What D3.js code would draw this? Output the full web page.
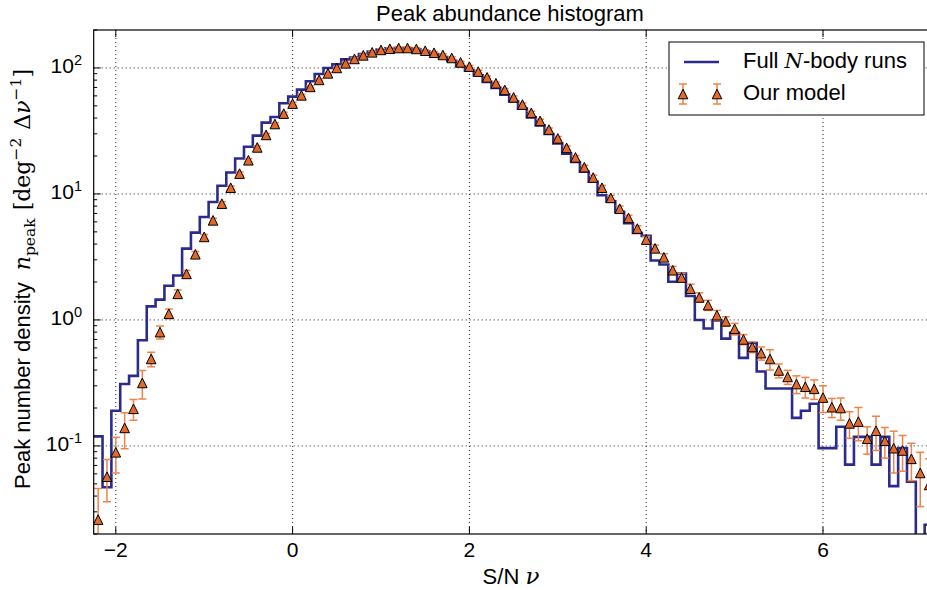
<!DOCTYPE html>
<html lang="en">
<head>
<meta charset="UTF-8">
<title>Peak abundance histogram</title>
<script src="https://d3js.org/d3.v7.min.js"></script>
<style>
  body { margin: 0; padding: 0; background: #fff; }
  svg { display: block; font-family: "Liberation Sans", Arial, sans-serif; }
</style>
</head>
<body>
<div id="chart"></div>
<script>
// histogram bins: 0.1 wide, first one centred on nu = -2.2
var binStart = -2.2;
var binWidth = 0.1;

// full N-body runs (blue step line), -2.2 ... 7.2
var nbodyCounts = [
  0.119, 0.047, 0.19, 0.31, 0.36, 0.69, 1.28, 1.45, 1.87, 2.25,
  3.68, 4.93, 6.56, 8.64, 11.6, 14.8, 19.1, 23.7, 29.0, 36.8,
  40.8, 52.4, 59.2, 67.3, 78.3, 89.6, 100, 107, 117, 121,
  129, 135, 140, 143, 144, 143, 140, 135, 129, 122,
  114, 103, 95.2, 87.4, 77.4, 69.4, 61.4, 54.3, 47.5, 40.5,
  35.0, 29.9, 25.2, 20.9, 17.9, 15.0, 12.5, 9.75, 8.73, 7.2,
  5.85, 4.9, 4.65, 2.96, 2.75, 2.01, 2.33, 1.55, 1.0, 0.855,
  0.99, 0.71, 0.79, 0.50, 0.656, 0.39, 0.286, 0.286, 0.286, 0.167,
  0.19, 0.216, 0.096, 0.096, 0.142, 0.071, 0.118, 0.118, 0.071, 0.118,
  0.048, 0.096, 0.052, 0, 0.0237
];

// our model (triangles)
var modelCounts = [
  0.026, 0.057, 0.089, 0.139, 0.197, 0.316, 0.49, 0.80, 1.12, 1.61,
  2.32, 3.32, 4.56, 6.17, 8.37, 11.2, 14.5, 18.5, 23.4, 29.4,
  35.9, 43.4, 52.1, 60.6, 70.7, 80.4, 90.6, 100, 108.8, 117.9,
  125.9, 133, 139, 142, 144, 144, 141.5, 137, 132, 126.7,
  120, 110.7, 102.4, 93.5, 84.2, 75.5, 66.9, 58.4, 51.2, 44,
  38, 32.4, 27.6, 23.2, 19.5, 16.3, 13.5, 11.2, 9.3, 7.64,
  6.45, 5.31, 4.34, 3.70, 3.14, 2.48, 2.17, 1.77, 1.51, 1.31,
  1.09, 0.975, 0.85, 0.70, 0.61, 0.545, 0.49, 0.397, 0.353, 0.31,
  0.295, 0.284, 0.242, 0.203, 0.20, 0.151, 0.156, 0.114, 0.132, 0.11,
  0.096, 0.092, 0.079, 0.061, 0.049
];

// model error bars (+/-)
var modelErr = [
  0.020, 0.021, 0.028, 0.044, 0.037, 0.080, 0.065, 0.095, 0.10, 0.12,
  0.15, 0.17, 0.20, 0.24, 0.28, 0.35, 0.42, 0.50, 0.60, 0.72,
  0.85, 1.0, 1.2, 1.3, 1.5, 1.7, 1.9, 2.1, 2.2, 2.4,
  2.5, 2.6, 2.7, 2.8, 2.8, 2.8, 2.8, 2.7, 2.7, 2.6,
  2.5, 2.4, 2.3, 2.2, 2.0, 1.9, 1.7, 1.6, 1.4, 1.3,
  1.2, 1.0, 0.9, 0.8, 0.7, 0.62, 0.55, 0.48, 0.42, 0.37,
  0.33, 0.29, 0.26, 0.23, 0.21, 0.18, 0.17, 0.15, 0.13, 0.12,
  0.10, 0.085, 0.09, 0.065, 0.06, 0.065, 0.09, 0.05, 0.045, 0.05,
  0.055, 0.05, 0.058, 0.035, 0.04, 0.036, 0.046, 0.028, 0.04, 0.03,
  0.035, 0.029, 0.026, 0.028, 0.03
];

var xTicks = [-2, 0, 2, 4, 6];
var yTicks = [0.1, 1, 10, 100];
var yTickExp = ["-1", "0", "1", "2"];

var width = 927, height = 590;
var padL = 93.7, padT = 30, padB = 534;

var blue = "#2b2b8f";
var orange = "#e2692a";
var errOrange = "#ee8447";
var serif = "DejaVu Serif, Liberation Serif, serif";

var x = d3.scaleLinear().domain([-2.25, 7.25]).range([padL, padL + 9.5 * 88.4]);
var y = d3.scaleLog().domain([0.02, 200]).range([padB, padT]);
var padR = x.range()[1];

function yv(v) {
  // empty bins drop below the frame
  return v > 0 ? y(v) : padB + 30;
}

var svg = d3.select("#chart").append("svg")
  .attr("width", width)
  .attr("height", height);

svg.append("clipPath").attr("id", "plotclip")
  .append("rect")
  .attr("x", padL).attr("y", padT)
  .attr("width", padR - padL).attr("height", padB - padT);

// grid
var grid = svg.append("g").attr("stroke", "#000").attr("stroke-width", 1)
  .attr("stroke-dasharray", "1,3").attr("opacity", 0.85);
xTicks.forEach(function(t) {
  grid.append("line").attr("x1", x(t)).attr("x2", x(t)).attr("y1", padT).attr("y2", padB);
});
yTicks.forEach(function(t) {
  grid.append("line").attr("x1", padL).attr("x2", padR).attr("y1", y(t)).attr("y2", y(t));
});

var plot = svg.append("g").attr("clip-path", "url(#plotclip)");

// N-body histogram as a step line
var steps = nbodyCounts.map(function(v, i) {
  return [binStart + (i - 0.5) * binWidth, v];
});
steps.push([binStart + (nbodyCounts.length - 0.5) * binWidth, nbodyCounts[nbodyCounts.length - 1]]);

var stepLine = d3.line()
  .x(function(d) { return x(d[0]); })
  .y(function(d) { return yv(d[1]); })
  .curve(d3.curveStepAfter);

plot.append("path")
  .attr("d", stepLine(steps))
  .attr("fill", "none")
  .attr("stroke", blue)
  .attr("stroke-width", 2.6);

// model with error bars
var model = modelCounts.map(function(v, i) {
  return { nu: binStart + i * binWidth, v: v, e: modelErr[i] };
});

var bars = plot.append("g").attr("stroke", errOrange).attr("stroke-width", 1.5);
model.forEach(function(d) {
  var cx = x(d.nu);
  var y1 = yv(d.v + d.e), y0 = yv(d.v - d.e);
  bars.append("line").attr("x1", cx).attr("x2", cx).attr("y1", y0).attr("y2", y1);
  bars.append("line").attr("x1", cx - 4).attr("x2", cx + 4).attr("y1", y1).attr("y2", y1);
  bars.append("line").attr("x1", cx - 4).attr("x2", cx + 4).attr("y1", y0).attr("y2", y0);
});

var tri = "M0,-4.8L4.8,4.8L-4.8,4.8Z";
plot.append("g").selectAll("path")
  .data(model)
  .enter()
  .append("path")
  .attr("d", tri)
  .attr("transform", function(d) { return "translate(" + x(d.nu) + "," + y(d.v) + ")"; })
  .attr("fill", orange)
  .attr("stroke", "#000")
  .attr("stroke-width", 1);

// frame
svg.append("rect")
  .attr("x", padL).attr("y", padT)
  .attr("width", padR - padL).attr("height", padB - padT)
  .attr("fill", "none").attr("stroke", "#000").attr("stroke-width", 1.2);

// ticks (inside)
var ticks = svg.append("g").attr("stroke", "#000").attr("stroke-width", 1);
xTicks.forEach(function(t) {
  ticks.append("line").attr("x1", x(t)).attr("x2", x(t)).attr("y1", padB).attr("y2", padB - 7);
  ticks.append("line").attr("x1", x(t)).attr("x2", x(t)).attr("y1", padT).attr("y2", padT + 7);
});
var minor = [];
[0.01, 0.1, 1, 10, 100].forEach(function(dec) {
  for (var m = 2; m <= 9; m++) {
    var v = dec * m;
    if (v >= 0.02 && v <= 200) minor.push(v);
  }
});
yTicks.forEach(function(t) {
  ticks.append("line").attr("x1", padL).attr("x2", padL + 7).attr("y1", y(t)).attr("y2", y(t));
});
minor.forEach(function(t) {
  ticks.append("line").attr("x1", padL).attr("x2", padL + 3.5).attr("y1", y(t)).attr("y2", y(t));
});

// tick labels
svg.append("g").selectAll("text")
  .data(xTicks)
  .enter()
  .append("text")
  .attr("x", function(d) { return x(d); })
  .attr("y", 557)
  .attr("text-anchor", "middle")
  .attr("font-size", 21)
  .text(function(d) { return d < 0 ? "\u2212" + Math.abs(d) : d; });

yTicks.forEach(function(t, i) {
  var lab = svg.append("text")
    .attr("x", 82)
    .attr("y", y(t) + 5)
    .attr("text-anchor", "end")
    .attr("font-size", 21);
  lab.append("tspan").text("10");
  lab.append("tspan").attr("font-size", 14.5).attr("dy", -8).text(yTickExp[i]);
});

// title and axis labels
svg.append("text")
  .attr("x", 510).attr("y", 21)
  .attr("text-anchor", "middle")
  .attr("font-size", 22)
  .text("Peak abundance histogram");

var xl = svg.append("text")
  .attr("x", 511).attr("y", 584)
  .attr("text-anchor", "middle")
  .attr("font-size", 22);
xl.append("tspan").text("S/N ");
xl.append("tspan").attr("font-family", serif).attr("font-style", "italic").attr("font-size", 23).text("\u03bd");

var yl = svg.append("text")
  .attr("transform", "translate(30," + 279 + ") rotate(-90)")
  .attr("text-anchor", "middle")
  .attr("font-size", 22);
yl.append("tspan").text("Peak number density ");
yl.append("tspan").attr("font-family", serif).attr("font-style", "italic").attr("dx", 6).text("n");
yl.append("tspan").attr("font-family", serif).attr("font-size", 15.5).attr("dy", 5).text("peak");
yl.append("tspan").attr("font-family", serif).attr("dy", -5).attr("dx", 8).text("[deg");
yl.append("tspan").attr("font-family", serif).attr("font-size", 15.5).attr("dy", -9).text("\u22122");
yl.append("tspan").attr("font-family", serif).attr("dy", 9).attr("dx", 8).text("\u0394");
yl.append("tspan").attr("font-family", serif).attr("font-style", "italic").text("\u03bd");
yl.append("tspan").attr("font-family", serif).attr("font-size", 15.5).attr("dy", -9).text("\u22121");
yl.append("tspan").attr("font-family", serif).attr("dy", 9).text("]");

// legend
var lg = svg.append("g");
lg.append("rect")
  .attr("x", 669).attr("y", 42).attr("width", 255).attr("height", 73)
  .attr("fill", "#fff").attr("stroke", "#000").attr("stroke-width", 1);
lg.append("line")
  .attr("x1", 684).attr("x2", 719).attr("y1", 62).attr("y2", 62)
  .attr("stroke", blue).attr("stroke-width", 2.6);
var t1 = lg.append("text").attr("x", 743).attr("y", 68).attr("font-size", 22);
t1.append("tspan").text("Full ");
t1.append("tspan").attr("font-family", serif).attr("font-style", "italic").attr("font-size", 21).text("N");
t1.append("tspan").text("-body runs");
[683, 717].forEach(function(cx) {
  var g = lg.append("g");
  g.append("line").attr("x1", cx).attr("x2", cx).attr("y1", 84).attr("y2", 104)
    .attr("stroke", errOrange).attr("stroke-width", 1.5);
  g.append("line").attr("x1", cx - 4).attr("x2", cx + 4).attr("y1", 84).attr("y2", 84)
    .attr("stroke", errOrange).attr("stroke-width", 1.5);
  g.append("line").attr("x1", cx - 4).attr("x2", cx + 4).attr("y1", 104).attr("y2", 104)
    .attr("stroke", errOrange).attr("stroke-width", 1.5);
  g.append("path").attr("d", tri).attr("transform", "translate(" + cx + ",94)")
    .attr("fill", orange).attr("stroke", "#000").attr("stroke-width", 1);
});
lg.append("text").attr("x", 743).attr("y", 100).attr("font-size", 22).text("Our model");
</script>
</body>
</html>
